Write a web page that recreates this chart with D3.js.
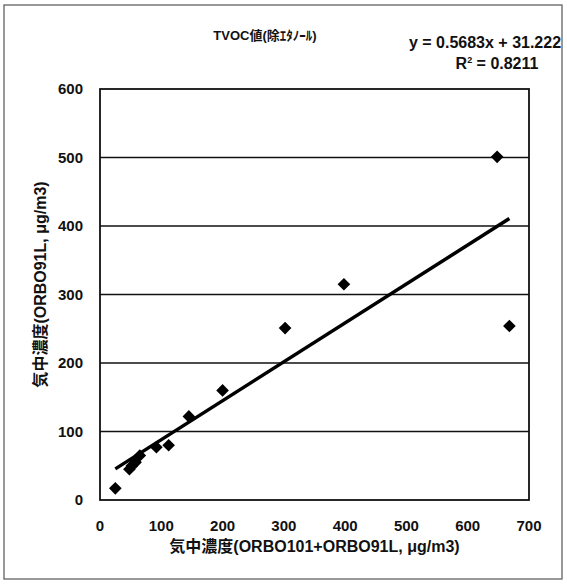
<!DOCTYPE html>
<html>
<head>
<meta charset="utf-8">
<script src="https://cdn.jsdelivr.net/npm/d3@7"></script>
<style>
  body { margin: 0; background: #fff; }
  text { font-family: "Liberation Sans", "Noto Sans CJK JP", sans-serif; font-weight: bold; fill: #111; }
  .grid line { stroke: #111; stroke-width: 1.3; }
</style>
</head>
<body>
<svg id="chart" width="567" height="584"></svg>
<script>

// measured air concentrations (x: ORBO101+ORBO91L, y: ORBO91L)
var xValues = [25, 48, 52, 58, 65, 92, 112, 145, 200, 302, 398, 648, 668];
var yValues = [17, 45, 50, 55, 65, 77, 80, 122, 160, 251, 315, 501, 254];
var xTicks = [0, 100, 200, 300, 400, 500, 600, 700];
var yTicks = [0, 100, 200, 300, 400, 500, 600];
var slope = 0.5683, intercept = 31.222;

var svg = d3.select("#chart");
var margin = {left: 100, top: 89, right: 38, bottom: 84};
var width = 567 - margin.left - margin.right,
    height = 584 - margin.top - margin.bottom;

// outer chart frame
svg.append("rect")
    .attr("x", 4).attr("y", 5).attr("width", 558).attr("height", 574)
    .attr("fill", "none").attr("stroke", "#555").attr("stroke-width", 1.2);

var g = svg.append("g")
    .attr("transform", "translate(" + margin.left + "," + margin.top + ")");

var x = d3.scaleLinear().domain([0, 700]).range([0, width]);
var y = d3.scaleLinear().domain([0, 600]).range([height, 0]);

// horizontal gridlines
g.append("g")
    .attr("class", "grid")
  .selectAll("line")
    .data(yTicks.filter(function(d) { return d > 0 && d < 600; }))
    .enter().append("line")
    .attr("x1", 0).attr("x2", width)
    .attr("y1", y).attr("y2", y);

// plot box
g.append("rect")
    .attr("width", width).attr("height", height)
    .attr("fill", "none").attr("stroke", "#111").attr("stroke-width", 1.8);

// tick labels
g.selectAll(".ylab")
    .data(yTicks)
    .enter().append("text")
    .attr("class", "ylab")
    .attr("x", -17)
    .attr("y", function(d) { return y(d) + 5; })
    .attr("text-anchor", "end")
    .style("font-size", "15px")
    .text(function(d) { return d; });

g.selectAll(".xlab")
    .data(xTicks)
    .enter().append("text")
    .attr("class", "xlab")
    .attr("x", x)
    .attr("y", height + 31)
    .attr("text-anchor", "middle")
    .style("font-size", "15px")
    .text(function(d) { return d; });

// trendline across the data range
var xMin = d3.min(xValues), xMax = d3.max(xValues);
g.append("line")
    .attr("x1", x(xMin)).attr("y1", y(slope * xMin + intercept))
    .attr("x2", x(xMax)).attr("y2", y(slope * xMax + intercept))
    .attr("stroke", "#000").attr("stroke-width", 3.5);

// diamond markers
var diamond = d3.symbol().type(d3.symbolSquare).size(80);
g.selectAll(".dot")
    .data(xValues)
    .enter().append("path")
    .attr("class", "dot")
    .attr("d", diamond)
    .attr("transform", function(d, i) {
        return "translate(" + x(d) + "," + y(yValues[i]) + ") rotate(45)";
    })
    .attr("fill", "#000");

// titles
svg.append("text")
    .attr("x", 265).attr("y", 40)
    .attr("text-anchor", "middle")
    .style("font-size", "13px")
    .text("TVOC値(除ｴﾀﾉｰﾙ)");

svg.append("text")
    .attr("x", 485).attr("y", 48)
    .attr("text-anchor", "middle")
    .style("font-size", "16px")
    .text("y = 0.5683x + 31.222");

var r2 = svg.append("text")
    .attr("x", 497).attr("y", 69)
    .attr("text-anchor", "middle")
    .style("font-size", "16px");
r2.append("tspan").text("R");
r2.append("tspan").attr("dy", -6).style("font-size", "9px").text("2");
r2.append("tspan").attr("dy", 6).text(" = 0.8211");

svg.append("text")
    .attr("x", margin.left + width / 2).attr("y", 552)
    .attr("text-anchor", "middle")
    .style("font-size", "16px")
    .text("気中濃度(ORBO101+ORBO91L, μg/m3)");

svg.append("text")
    .attr("transform", "translate(46," + (margin.top + height / 2 - 10) + ") rotate(-90)")
    .attr("text-anchor", "middle")
    .style("font-size", "16px")
    .text("気中濃度(ORBO91L, μg/m3)");

</script>
</body>
</html>
